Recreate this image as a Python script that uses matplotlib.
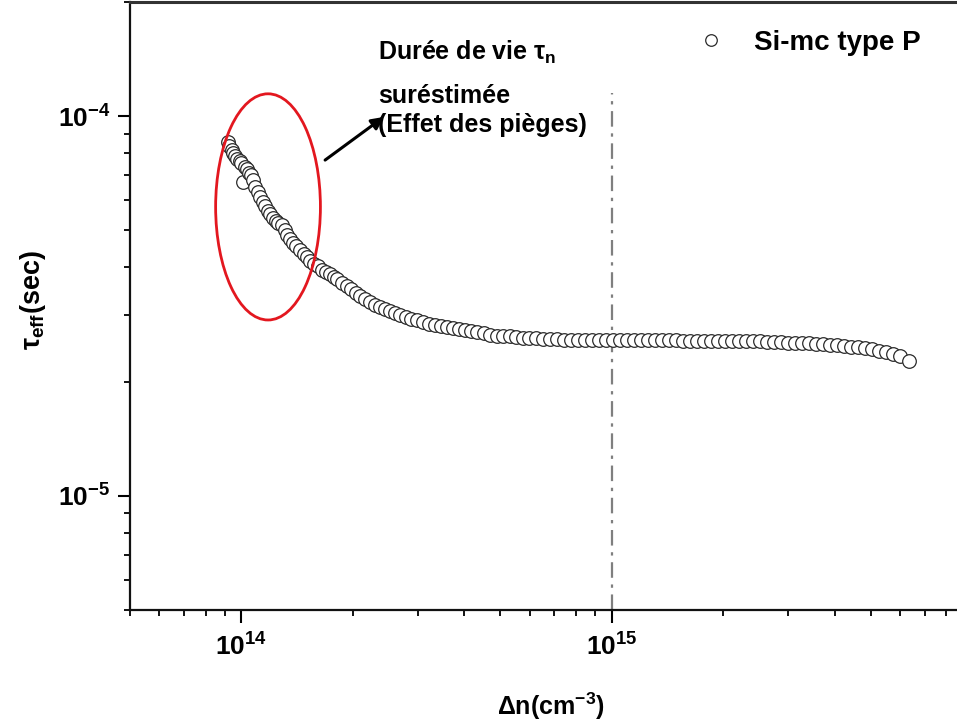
import numpy as np
import matplotlib
matplotlib.use("Agg")
import matplotlib.pyplot as plt
from matplotlib.patches import Ellipse
from matplotlib.ticker import FuncFormatter, LogLocator, NullFormatter, FixedLocator

plt.rcParams['font.family'] = ['Liberation Sans', 'DejaVu Sans']
plt.rcParams['font.weight'] = 'bold'
plt.rcParams['mathtext.fontset'] = 'custom'
plt.rcParams['mathtext.rm'] = 'Liberation Sans:bold'
plt.rcParams['mathtext.bf'] = 'Liberation Sans:bold'
plt.rcParams['mathtext.it'] = 'Liberation Sans'

# ---- data (Δn in 1e14 cm^-3, tau_eff in 1e-5 s) ----
dn_1e14 = [0.917, 0.928, 0.940, 0.951, 0.963, 0.975, 0.988, 1.000, 1.012, 1.025,
           1.038, 1.051, 1.064, 1.077, 1.091, 1.105, 1.122, 1.140, 1.157, 1.176,
           1.194, 1.213, 1.236, 1.259, 1.283, 1.307, 1.331, 1.356, 1.382, 1.408,
           1.439, 1.471, 1.503, 1.536, 1.570, 1.605, 1.645, 1.687, 1.729, 1.773,
           1.817, 1.869, 1.922, 1.977, 2.033, 2.091, 2.150, 2.218, 2.288, 2.360,
           2.435, 2.512, 2.591, 2.682, 2.775, 2.872, 2.972, 3.085, 3.202, 3.324,
           3.451, 3.582, 3.718, 3.860, 4.007, 4.159, 4.330, 4.509, 4.695, 4.889,
           5.091, 5.301, 5.520, 5.748, 5.984, 6.231, 6.509, 6.799, 7.101, 7.419,
           7.749, 8.094, 8.453, 8.830, 9.223, 9.634, 10.06, 10.51, 10.98, 11.47,
           11.98, 12.51, 13.07, 13.65, 14.26, 14.89, 15.56, 16.25, 16.97, 17.73,
           18.52, 19.34, 20.20, 21.10, 22.04, 23.02, 24.05, 25.12, 26.24, 27.41,
           28.63, 29.90, 31.23, 32.62, 34.07, 35.60, 37.18, 38.84, 40.57, 42.37,
           44.26, 46.23, 48.29, 50.44, 52.68, 55.03, 57.48, 60.04, 63.5]
tau_1e5 = [8.54, 8.34, 8.14, 7.99, 7.85, 7.71, 7.61, 7.52, 6.71, 7.34,
           7.25, 7.08, 7.00, 6.79, 6.51, 6.31, 6.12, 5.94, 5.80, 5.62,
           5.52, 5.39, 5.29, 5.23, 5.17, 5.01, 4.86, 4.75, 4.63, 4.55,
           4.44, 4.33, 4.26, 4.15, 4.08, 4.03, 3.93, 3.88, 3.84, 3.77,
           3.72, 3.63, 3.57, 3.50, 3.42, 3.36, 3.30, 3.24, 3.18, 3.14,
           3.11, 3.07, 3.03, 2.99, 2.96, 2.93, 2.90, 2.87, 2.84, 2.82,
           2.80, 2.78, 2.77, 2.75, 2.73, 2.72, 2.70, 2.68, 2.66, 2.64,
           2.63, 2.63, 2.62, 2.61, 2.60, 2.60, 2.59, 2.59, 2.59, 2.58,
           2.58, 2.58, 2.58, 2.58, 2.58, 2.58, 2.58, 2.58, 2.57, 2.57,
           2.57, 2.57, 2.57, 2.57, 2.57, 2.57, 2.56, 2.56, 2.56, 2.56,
           2.56, 2.56, 2.56, 2.55, 2.55, 2.55, 2.55, 2.55, 2.54, 2.54,
           2.54, 2.53, 2.53, 2.52, 2.52, 2.51, 2.51, 2.50, 2.49, 2.48,
           2.47, 2.46, 2.45, 2.43, 2.41, 2.39, 2.36, 2.33, 2.26]

series_label = "Si-mc type P"
x_major_ticks = [1e14, 1e15]
y_major_ticks = [1e-5, 1e-4]
vline_x = 1e15
x_limits = (5e13, 1e16)
y_limits = (5e-6, 2e-4)

dn = np.array(dn_1e14) * 1e14
tau = np.array(tau_1e5) * 1e-5

fig = plt.figure(figsize=(9.57, 7.26), dpi=100)
ax = fig.add_axes([130/957, 116/726, 852/957, 608/726])
ax.set_xscale('log')
ax.set_yscale('log')
ax.set_xlim(*x_limits)
ax.set_ylim(*y_limits)

ax.plot(dn, tau, 'o', mfc='white', mec='#2a2a2a', ms=9.8, mew=0.9,
        zorder=3, label=series_label)

# vertical dash-dot reference line
ax.plot([vline_x, vline_x], [y_limits[0], 1.15e-4], color='#7f7f7f', lw=1.6,
        linestyle=(0, (7, 3, 1.5, 3)), zorder=2)

# red ellipse around trap region
ell = Ellipse((0.162, 0.663), 0.123, 0.372, transform=ax.transAxes,
              fill=False, edgecolor='#e3171f', lw=2.0, zorder=4)
ax.add_patch(ell)

# arrow
ax.annotate('', xy=(0.298, 0.811), xytext=(0.229, 0.740),
            xycoords='axes fraction', textcoords='axes fraction',
            arrowprops=dict(arrowstyle='-|>', color='black', lw=2.2,
                            mutation_scale=18, shrinkA=0, shrinkB=0))

ann_fs = 18
ax.text(0.291, 0.905, r'Durée de vie $\tau_{\mathbf{n}}$', transform=ax.transAxes,
        fontsize=ann_fs, fontweight='bold', va='baseline', ha='left')
ax.text(0.291, 0.834, 'suréstimée', transform=ax.transAxes,
        fontsize=ann_fs, fontweight='bold', va='baseline', ha='left')
ax.text(0.291, 0.786, '(Effet des pièges)', transform=ax.transAxes,
        fontsize=ann_fs, fontweight='bold', va='baseline', ha='left')

leg = ax.legend(loc='center left', bbox_to_anchor=(0.667, 0.9326), frameon=False,
                fontsize=20, handlelength=0.9, handletextpad=1.1, borderpad=0,
                borderaxespad=0, markerscale=0.85)
for t in leg.get_texts():
    t.set_fontweight('bold')

# ticks
fmt = FuncFormatter(lambda v, p: r'$\mathbf{10^{%d}}$' % int(round(np.log10(v))))
ax.xaxis.set_major_locator(FixedLocator(x_major_ticks))
ax.yaxis.set_major_locator(FixedLocator(y_major_ticks))
ax.xaxis.set_minor_locator(LogLocator(base=10, subs=np.arange(2, 10), numticks=20))
ax.yaxis.set_minor_locator(LogLocator(base=10, subs=np.arange(2, 10), numticks=20))
ax.xaxis.set_major_formatter(fmt)
ax.yaxis.set_major_formatter(fmt)
ax.xaxis.set_minor_formatter(NullFormatter())
ax.yaxis.set_minor_formatter(NullFormatter())
ax.tick_params(which='major', direction='out', length=9, width=1.5, labelsize=19, pad=5)
ax.tick_params(which='minor', direction='out', length=4.5, width=1.3)
ax.tick_params(axis='x', which='major', pad=8)

for side in ['left', 'bottom']:
    ax.spines[side].set_linewidth(1.6)
    ax.spines[side].set_color('#111111')
ax.spines['top'].set_linewidth(2.2)
ax.spines['top'].set_color('#333333')
ax.spines['right'].set_visible(False)

ax.set_xlabel(r'$\Delta$n(cm$^{\mathbf{-3}}$)', fontsize=18, fontweight='bold')
ax.set_ylabel(r'$\tau_{\mathbf{eff}}$(sec)', fontsize=19.5, fontweight='bold')
ax.xaxis.set_label_coords(0.494, -0.132)
ax.yaxis.set_label_coords(-0.096, 0.51)
ax.xaxis.label.set_va('top')

fig.savefig('out.png', dpi=100)
